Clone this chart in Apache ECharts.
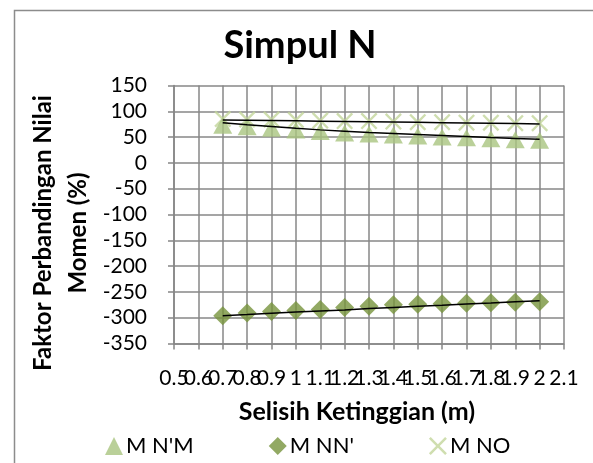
<!DOCTYPE html>
<html>
<head>
<meta charset="utf-8">
<script src="https://cdn.jsdelivr.net/npm/echarts@6/dist/echarts.min.js"></script>
<style>
html,body{margin:0;padding:0;background:#fff;}
#chart{width:593px;height:463px;}
</style>
</head>
<body>
<div id="chart"></div>
<script>
// x-axis tick labels (Selisih Ketinggian, m)
const xTicks = ['0.5', '0.6', '0.7', '0.8', '0.9', '1', '1.1', '1.2', '1.3', '1.4', '1.5', '1.6', '1.7', '1.8', '1.9', '2', '2.1'];
// x positions of the data points
const xValues = ['0.7', '0.8', '0.9', '1', '1.1', '1.2', '1.3', '1.4', '1.5', '1.6', '1.7', '1.8', '1.9', '2'];
// Faktor Perbandingan Nilai Momen (%)
const mNpM  = [73, 70, 67, 64, 61, 58, 56, 54, 52, 50, 48.5, 47, 45, 44];
const mNNp  = [-296, -291, -288, -286, -284, -280, -278, -275, -274, -273, -272, -271, -270, -269];
const mNO   = [85, 84, 84, 83, 82, 81, 81, 80, 79, 79, 78, 78, 77, 77];
// trend lines
const trendNpM = [78, 74, 70.5, 67, 64, 61.5, 59, 57, 55, 53, 51, 49, 47.5, 46];
const trendNNp = [-296, -294, -291.5, -289, -287, -285, -282, -280, -278, -276, -273.5, -271.5, -269, -267];
const trendNO  = [83.3, 82.7, 82.1, 81.5, 80.9, 80.3, 79.8, 79.2, 78.6, 78.0, 77.4, 76.8, 76.2, 75.6];
// y-axis range
const yMin = -350, yMax = 150, yStep = 50;

const seriesNames = ["M N'M", "M NN'", "M NO"];
const titleText = "Simpul N";
const xTitle = "Selisih Ketinggian (m)";
const yTitle = "Faktor Perbandingan Nilai\nMomen (%)";

const pairs = (ys) => xValues.map((x, i) => [x, ys[i]]);
const FONT = 'Lato';
const xPath = 'path://M0,1L1,0L5,4L9,0L10,1L6,5L10,9L9,10L5,6L1,10L0,9L4,5Z';

const chart = echarts.init(document.getElementById('chart'), null, {renderer: 'canvas'});
const trendLine = (name, ys) => ({
  name: name, type: 'line', data: pairs(ys), symbol: 'none', smooth: false,
  lineStyle: {color: '#000', width: 1.5}, z: 5, silent: true
});
chart.setOption({
  animation: false,
  backgroundColor: '#fff',
  textStyle: {fontFamily: FONT},
  title: {
    text: titleText, left: 295, top: 22, textAlign: 'center',
    textStyle: {fontFamily: FONT, fontWeight: 'bold', fontSize: 38, color: '#000'}
  },
  grid: {left: 174, right: 29, top: 85.5, bottom: 119.5},
  xAxis: {
    type: 'category', data: xTicks, boundaryGap: false,
    axisLine: {show: true, onZero: false, lineStyle: {color: '#868686', width: 1.5}},
    axisTick: {show: true, length: 6, interval: 0, alignWithLabel: true, lineStyle: {color: '#868686', width: 1.5}},
    splitLine: {show: true, interval: 0, lineStyle: {color: '#878787', width: 1.5}},
    axisLabel: {
      color: '#000', fontSize: 21, fontFamily: FONT, margin: 24, interval: 0, hideOverlap: false,
      showMinLabel: true, showMaxLabel: true
    }
  },
  yAxis: {
    type: 'value', min: yMin, max: yMax, interval: yStep,
    axisLine: {show: true, onZero: false, lineStyle: {color: '#868686', width: 1.5}},
    axisTick: {show: true, length: 6, lineStyle: {color: '#868686', width: 1.5}},
    splitLine: {show: true, lineStyle: {color: '#878787', width: 1.5}},
    axisLabel: {color: '#000', fontSize: 21, fontFamily: FONT, margin: 27}
  },
  legend: {
    data: [
      {name: seriesNames[0], icon: 'triangle'},
      {name: seriesNames[1], icon: 'diamond'},
      {name: seriesNames[2], icon: xPath}
    ],
    left: 100, top: 430, itemWidth: 18, itemHeight: 18, itemGap: 75,
    textStyle: {fontFamily: FONT, fontSize: 22, color: '#000', padding: [0, 0, 0, -2]}
  },
  graphic: [
    {type: 'rect', left: 12, top: 8, shape: {width: 700, height: 600},
     style: {fill: 'none', stroke: '#8c8c8c', lineWidth: 1.5}, silent: true, z: -10},
    {type: 'text', x: 357, y: 412, style: {text: xTitle, fontFamily: FONT, fontWeight: 'bold',
      fontSize: 25, fill: '#000', textAlign: 'center', textVerticalAlign: 'middle'}},
    {type: 'text', x: 61, y: 233, rotation: Math.PI / 2,
     style: {text: yTitle, fontFamily: FONT, fontWeight: 'bold', fontSize: 24, lineHeight: 35,
      fill: '#000', textAlign: 'center', textVerticalAlign: 'middle'}}
  ],
  series: [
    {name: seriesNames[2], type: 'scatter', data: pairs(mNO), symbol: xPath,
     symbolSize: 17, itemStyle: {color: '#C3D69B'}, z: 2},
    {name: seriesNames[0], type: 'scatter', data: pairs(mNpM), symbol: 'triangle',
     symbolSize: [19, 17], itemStyle: {color: '#A9C47F'}, z: 3},
    {name: seriesNames[1], type: 'scatter', data: pairs(mNNp), symbol: 'diamond',
     symbolSize: [19, 19], itemStyle: {color: '#77933C'}, z: 3},
    trendLine('trend1', trendNpM),
    trendLine('trend2', trendNNp),
    trendLine('trend3', trendNO)
  ]
});
</script>
</body>
</html>
